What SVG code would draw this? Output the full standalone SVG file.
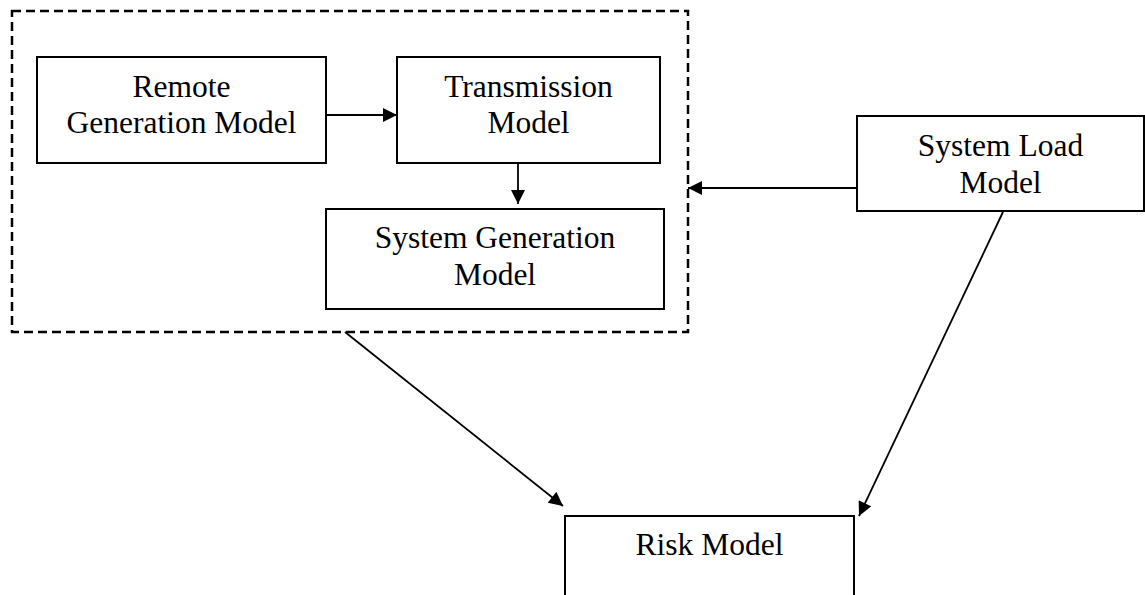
<svg xmlns="http://www.w3.org/2000/svg" width="1145" height="595" viewBox="0 0 1145 595">
  <defs>
    <marker id="arr" viewBox="0 0 10 10" refX="10" refY="5" markerWidth="15" markerHeight="14" markerUnits="userSpaceOnUse" orient="auto">
      <path d="M0,0 L10,5 L0,10 Z" fill="#000"/>
    </marker>
  </defs>
  <style>
    .box { fill: #fff; stroke: #000; stroke-width: 2; }
    .grp { fill: none; stroke: #000; stroke-width: 2.5; stroke-dasharray: 9 5; }
    .lbl { font-family: "Liberation Serif", "Times New Roman", serif; font-size: 31.5px; fill: #000; text-anchor: middle; }
    .con { stroke: #000; stroke-width: 1.8; fill: none; marker-end: url(#arr); }
  </style>
  <rect width="1145" height="595" fill="#fff"/>

  <g id="group-generation">
    <rect class="grp" x="12" y="11" width="676" height="321"/>
  </g>

  <g id="remote-generation">
    <rect class="box" x="37" y="57" width="289" height="106"/>
    <text class="lbl" x="181.5" y="97">Remote</text>
    <text class="lbl" x="181.5" y="133">Generation Model</text>
  </g>

  <g id="transmission">
    <rect class="box" x="397" y="57" width="263" height="106"/>
    <text class="lbl" x="528.5" y="97">Transmission</text>
    <text class="lbl" x="528.5" y="133">Model</text>
  </g>

  <g id="system-generation">
    <rect class="box" x="326" y="209" width="338" height="100"/>
    <text class="lbl" x="495" y="248">System Generation</text>
    <text class="lbl" x="495" y="285">Model</text>
  </g>

  <g id="system-load">
    <rect class="box" x="857" y="116" width="287" height="95"/>
    <text class="lbl" x="1000.5" y="156">System Load</text>
    <text class="lbl" x="1000.5" y="193">Model</text>
  </g>

  <g id="risk">
    <rect class="box" x="565" y="516" width="289" height="90"/>
    <text class="lbl" x="709.5" y="555">Risk Model</text>
  </g>

  <g id="connectors">
    <line class="con" x1="326" y1="115" x2="397" y2="115"/>
    <line class="con" x1="518" y1="162" x2="518" y2="204"/>
    <line class="con" x1="857" y1="188" x2="688" y2="188"/>
    <line class="con" x1="345" y1="332" x2="563" y2="506"/>
    <line class="con" x1="1003" y1="212" x2="859" y2="516"/>
  </g>
</svg>
